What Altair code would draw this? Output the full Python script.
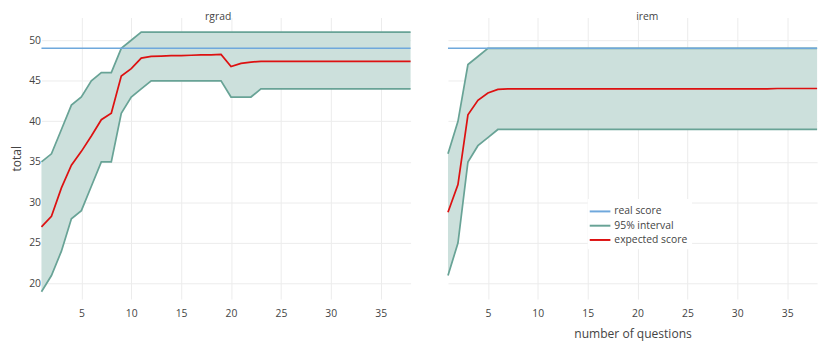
import altair as alt
import pandas as pd

# ---------------- data ----------------
x_vals = list(range(1, 39))

rgrad_upper = [35, 36, 39, 42, 43, 45, 46, 46, 49, 50,
               51, 51, 51, 51, 51, 51, 51, 51, 51, 51,
               51, 51, 51, 51, 51, 51, 51, 51, 51, 51,
               51, 51, 51, 51, 51, 51, 51, 51]
rgrad_lower = [19, 21, 24, 28, 29, 32, 35, 35, 41, 43,
               44, 45, 45, 45, 45, 45, 45, 45, 45, 43,
               43, 43, 44, 44, 44, 44, 44, 44, 44, 44,
               44, 44, 44, 44, 44, 44, 44, 44]
rgrad_expected = [27.0, 28.3, 31.8, 34.6, 36.3, 38.2, 40.2, 41.0, 45.6, 46.5,
                  47.8, 48.0, 48.05, 48.1, 48.1, 48.15, 48.2, 48.2, 48.25, 46.75,
                  47.15, 47.3, 47.4, 47.4, 47.4, 47.4, 47.4, 47.4, 47.4, 47.4,
                  47.4, 47.4, 47.4, 47.4, 47.4, 47.4, 47.4, 47.4]
rgrad_real = [49] * 38

irem_upper = [36, 40, 47, 48, 49, 49, 49, 49, 49, 49,
              49, 49, 49, 49, 49, 49, 49, 49, 49, 49,
              49, 49, 49, 49, 49, 49, 49, 49, 49, 49,
              49, 49, 49, 49, 49, 49, 49, 49]
irem_lower = [21, 25, 35, 37, 38, 39, 39, 39, 39, 39,
              39, 39, 39, 39, 39, 39, 39, 39, 39, 39,
              39, 39, 39, 39, 39, 39, 39, 39, 39, 39,
              39, 39, 39, 39, 39, 39, 39, 39]
irem_expected = [28.8, 32.2, 40.8, 42.6, 43.5, 43.95, 44.0, 44.0, 44.0, 44.0,
                 44.0, 44.0, 44.0, 44.0, 44.0, 44.0, 44.0, 44.0, 44.0, 44.0,
                 44.0, 44.0, 44.0, 44.0, 44.0, 44.0, 44.0, 44.0, 44.0, 44.0,
                 44.0, 44.0, 44.0, 44.05, 44.05, 44.05, 44.05, 44.05]
irem_real = [49] * 38

series_names = ["real score", "95% interval", "expected score"]
x_ticks = [5, 10, 15, 20, 25, 30, 35]
y_ticks = [20, 25, 30, 35, 40, 45, 50]

# ---------------- style ----------------
FONT = "Open Sans"
TXT = "#444444"
FILL = "#cce0dc"
EDGE = "#68a396"
BLUE = "#6fa8dc"
RED = "#dd1111"
GRID = "#ececec"
W, H = 375, 286


def band_frame(lower, upper):
    return pd.DataFrame({"x": x_vals, "lower": lower, "upper": upper})


def line_frame(lower, upper, expected, real):
    rows = []
    for xv, lo, up, ex, re in zip(x_vals, lower, upper, expected, real):
        rows.append({"x": xv, "value": re, "series": "real score", "part": "real"})
        rows.append({"x": xv, "value": lo, "series": "95% interval", "part": "lower"})
        rows.append({"x": xv, "value": up, "series": "95% interval", "part": "upper"})
        rows.append({"x": xv, "value": ex, "series": "expected score", "part": "expected"})
    return pd.DataFrame(rows)


color_enc = alt.Color(
    "series:N",
    scale=alt.Scale(domain=series_names, range=[BLUE, EDGE, RED]),
    legend=alt.Legend(
        title=None, orient="none", legendX=555, legendY=184.5,
        symbolType="M-1.4,0H1.4", symbolSize=225, symbolStrokeWidth=2,
        labelFont=FONT, labelFontSize=10.5, labelColor=TXT, labelOffset=6,
        rowPadding=0.5, padding=4, fillColor="white",
    ),
)


def panel(name, lower, upper, expected, real, left, title_dx):
    x_axis = alt.Axis(
        values=x_ticks, title=None if left else "number of questions",
        labelPadding=10, titlePadding=9,
    )
    if left:
        y_axis = alt.Axis(values=y_ticks, title="total", labelPadding=1, titlePadding=5.75)
    else:
        y_axis = alt.Axis(values=y_ticks, title=None, labels=False, ticks=False, domain=False)

    xs = alt.X("x:Q", scale=alt.Scale(domain=[1, 38], nice=False, zero=False), axis=x_axis)
    yscale = alt.Scale(domain=[18.1, 52.8], nice=False, zero=False)

    bdf = band_frame(lower, upper)
    ldf = line_frame(lower, upper, expected, real)

    area = alt.Chart(bdf).mark_area(color=FILL, opacity=1).encode(
        x=xs, y=alt.Y("lower:Q", scale=yscale, axis=y_axis), y2="upper:Q"
    )
    edges = alt.Chart(ldf).transform_filter(
        alt.datum.series == "95% interval"
    ).mark_line(strokeWidth=1.75).encode(
        x=xs, y=alt.Y("value:Q", scale=yscale, axis=y_axis), color=color_enc, detail="part:N"
    )
    realline = alt.Chart(ldf).transform_filter(
        alt.datum.series == "real score"
    ).mark_line(strokeWidth=1.5).encode(
        x=xs, y=alt.Y("value:Q", scale=yscale, axis=y_axis), color=color_enc
    )
    expline = alt.Chart(ldf).transform_filter(
        alt.datum.series == "expected score"
    ).mark_line(strokeWidth=1.75).encode(
        x=xs, y=alt.Y("value:Q", scale=yscale, axis=y_axis), color=color_enc
    )
    title = alt.Chart(pd.DataFrame({"name": [name]})).mark_text(
        font=FONT, fontSize=10.5, color=TXT, align="center", baseline="alphabetic"
    ).encode(text="name:N", x=alt.value(W / 2 + title_dx), y=alt.value(2.5))
    return alt.layer(area, edges, realline, expline, title).properties(width=W, height=H)


left_chart = panel("rgrad", rgrad_lower, rgrad_upper, rgrad_expected, rgrad_real, True, -8)
right_chart = panel("irem", irem_lower, irem_upper, irem_expected, irem_real, False, 15)

chart = alt.hconcat(left_chart, right_chart, spacing=30).properties(
    padding={"left": 2, "top": 1, "right": 2, "bottom": 0}
).configure_view(stroke=None).configure_axis(
    grid=True, gridColor=GRID, gridWidth=1, domain=False, ticks=False,
    labelFont=FONT, labelFontSize=10.5, labelColor=TXT,
    titleFont=FONT, titleFontSize=12.25, titleFontWeight="normal", titleColor=TXT,
)

chart.save("out.html", embed_options={"renderer": "svg", "actions": False})
